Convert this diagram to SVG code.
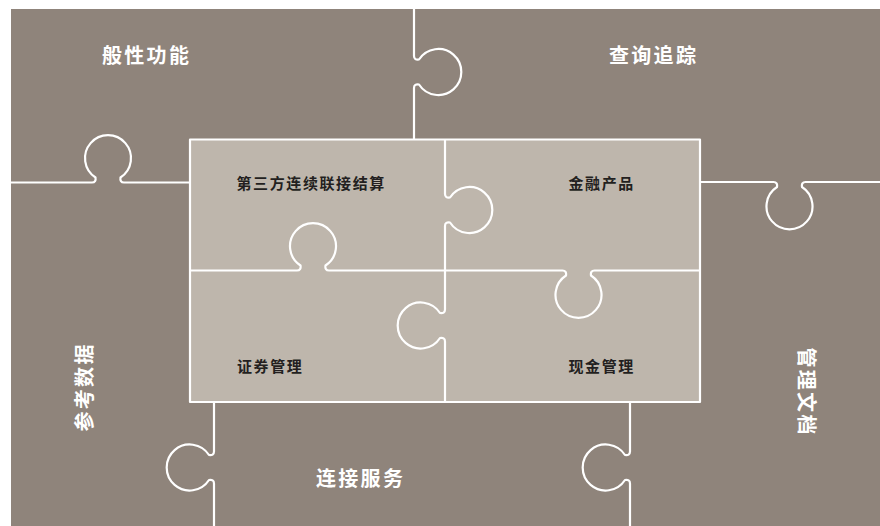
<svg xmlns="http://www.w3.org/2000/svg" width="880" height="526" viewBox="0 0 880 526">
<style>
.outer{fill:#8f847b}
.inner{fill:#beb6ac}
.seam{fill:none;stroke:#ffffff;stroke-width:2.2;stroke-linejoin:round}
.lt{font-family:"Noto Sans CJK SC","Noto Sans",sans-serif;font-weight:bold;font-size:20px;letter-spacing:2.3px;fill:#ffffff}
.dk{font-family:"Noto Sans CJK SC","Noto Sans",sans-serif;font-weight:bold;font-size:15px;letter-spacing:1.6px;fill:#231f20}
</style>
<rect x="0" y="0" width="880" height="526" fill="#ffffff"/>
<g id="outer-pieces">
<rect class="outer" x="11" y="9" width="869" height="517"/>
<g id="piece-general"><text class="lt" x="102" y="63">般性功能</text></g>
<g id="piece-query"><text class="lt" x="609" y="63">查询追踪</text></g>
<g id="piece-reference"><text class="lt" transform="translate(92,431.5) rotate(-90)">参考数据</text></g>
<g id="piece-documents"><text class="lt" transform="translate(799,347.5) rotate(90)">管理文档</text></g>
<g id="piece-connect"><text class="lt" x="316" y="486">连接服务</text></g>
</g>
<g id="inner-pieces">
<rect class="inner" x="190" y="139.5" width="510" height="262.5"/>
<g id="piece-settlement"><text class="dk" x="236.5" y="189">第三方连续联接结算</text></g>
<g id="piece-products"><text class="dk" x="568.5" y="189">金融产品</text></g>
<g id="piece-securities"><text class="dk" x="237" y="372">证券管理</text></g>
<g id="piece-cash"><text class="dk" x="568.5" y="372">现金管理</text></g>
</g>
<g id="seams">
<rect class="seam" x="190" y="139.5" width="510" height="262.5"/>
<path class="seam" d="M 11,182.5 H 92 C 95,182.5 96,180.5 95.5,177.5 A 23,23 0 1 1 120.5,177.5 C 120,180.5 121,182.5 124,182.5 H 190"/>
<path class="seam" d="M 700,182 H 773.5 C 776.5,182 777.5,184 777,187 A 23,23 0 1 0 802,187 C 801.5,184 802.5,182 805.5,182 H 880"/>
<path class="seam" d="M 414,9 V 56 C 414,59 416,60 419,59.5 A 23,23 0 1 1 419,84.5 C 416,84 414,85 414,88 V 139.5"/>
<path class="seam" d="M 445,139.5 V 194 C 445,197 447,198 450,197.5 A 23,23 0 1 1 450,222.5 C 447,222 445,223 445,226 V 270.5"/>
<path class="seam" d="M 445,270.5 V 309.5 C 445,312.5 443,313.5 440,313 A 23,23 0 1 0 440,338 C 443,337.5 445,338.5 445,341.5 V 402"/>
<path class="seam" d="M 190,270.5 H 297 C 300,270.5 301,268.5 300.5,265.5 A 23,23 0 1 1 325.5,265.5 C 325,268.5 326,270.5 329,270.5 H 445"/>
<path class="seam" d="M 445,270.5 H 562.5 C 565.5,270.5 566.5,272.5 566,275.5 A 23,23 0 1 0 591,275.5 C 590.5,272.5 591.5,270.5 594.5,270.5 H 700"/>
<path class="seam" d="M 214,402 V 451.5 C 214,454.5 212,455.5 209,455 A 23,23 0 1 0 209,480 C 212,479.5 214,480.5 214,483.5 V 526"/>
<path class="seam" d="M 630,402 V 451.5 C 630,454.5 628,455.5 625,455 A 23,23 0 1 0 625,480 C 628,479.5 630,480.5 630,483.5 V 526"/>
</g>
</svg>
